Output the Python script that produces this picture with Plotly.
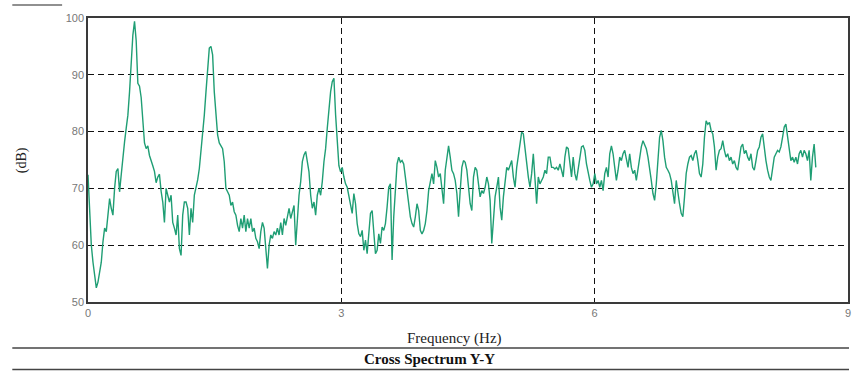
import numpy as np
import plotly.graph_objects as go

# Spectral resolution (Hz per bin) of the recorded spectrum
DF = 0.019677

# dB readings, bin by bin, grouped by frequency band
db_00_15 = [72.4, 66, 60, 57, 55, 52.5, 53.5, 55.5, 57, 60.6, 63, 62.4, 65.3, 68.2, 66.5, 65.3,
            70, 73, 73.5, 69.4, 72.4, 75.9, 78.2, 80.6, 82.9, 87, 92.4, 97, 99.4, 96, 88.5, 88,
            86, 81.5, 78, 77, 77.5, 75.8, 75, 74, 73, 71, 72, 72.5, 69.5, 67.6, 64, 70, 68.8,
            67.6, 68.8, 64, 63, 61.8, 65.3, 59.4, 58.2, 65.3, 67.6, 67.6, 66.5, 61.8, 66.5, 64,
            68.8, 70, 71.5, 73.5, 76.5, 79.4, 82.9, 87, 91.2, 94.7, 95, 93.5]
db_15_30 = [87, 83, 79.4, 78, 77.6, 77, 74.7, 70, 69.4, 68.8, 67, 67.6, 65.9, 65.3, 63.5, 62.4,
            64.7, 63, 65.3, 62.4, 64.7, 63, 64.7, 62.4, 63, 61.2, 60.6, 59.4, 62.4, 64, 63, 60,
            55.9, 60, 61.8, 61.2, 62.4, 61.8, 63, 61.8, 64, 61.8, 64.7, 63.5, 65.3, 66.5, 64.7,
            65.9, 67, 60, 65.3, 68.8, 71.2, 74.7, 75.9, 76.5, 74.7, 72.9, 68.8, 66.5, 67.6, 65.3,
            68.8, 70, 68.8, 71.2, 74.7, 77, 80.6, 84.1, 87, 88.8, 89.4, 83, 78.2, 74, 72.9]
db_30_45 = [73.7, 72, 70.8, 70.2, 68.5, 66.7, 65.6, 69.1, 67.3, 63.8, 62, 61.5, 62.6, 59.1, 60.9,
            58.5, 62, 65.6, 66.1, 62.6, 58.5, 59.1, 62, 60.3, 63.2, 62.6, 63.8, 66.7, 70.2, 70.8,
            57.4, 65, 69.6, 74.3, 75.5, 74.6, 74.9, 74.3, 72, 69.6, 66.7, 65, 63.8, 63.2, 65,
            67.3, 66.1, 62.6, 62, 62.6, 63.8, 66.1, 69.6, 71.4, 72.6, 70.8, 74.9, 73.7, 72, 72.6,
            69.6, 67.3, 73.2, 75.5, 77.5, 75.5, 73.2, 72.6, 71.4, 69.1, 65, 69.6, 73.7, 74.9,
            74.6, 73.2, 69.6]
db_45_60 = [67.3, 66.1, 72, 73.7, 73.2, 70.8, 68.5, 69.6, 69.1, 70.2, 72, 70.8, 67.9, 60.3, 65,
            68.5, 70.2, 72, 66.7, 64.4, 68.5, 71.4, 73.7, 73.2, 74.3, 74.9, 72, 70.2, 73.7, 75.5,
            77.8, 79.9, 79.6, 76.7, 73.7, 72, 70.2, 72.6, 76.1, 71.4, 67.3, 72, 70.8, 71.4, 72,
            73.2, 72.6, 75.5, 75.5, 73.7, 73.7, 73.4, 73.7, 73.2, 74.3, 73.2, 72, 75.5, 77.3, 77,
            74.3, 72, 75.5, 72.6, 71.4, 73.7, 75.5, 77.3, 77.5, 76.7, 74.3, 72.6, 71.4, 70.2,
            70.8, 72.6]
db_60_75 = [70.8, 71.4, 70.2, 71.4, 69.6, 72.6, 73.7, 72, 76.1, 77.5, 76.1, 73.7, 71.4, 73.2,
            75.5, 74.9, 76.1, 76.7, 74.9, 73.7, 76.1, 73.7, 72.6, 73.2, 71.4, 73.7, 75.5, 77.3,
            78.4, 77.8, 77, 75.5, 73.7, 71.4, 69.1, 67.9, 70.8, 75.5, 79, 80.2, 78.4, 75.5, 73.7,
            73.2, 72.6, 71.4, 69.6, 67.3, 71.4, 69.1, 67.3, 65.6, 65, 68.5, 72.6, 74.3, 75.5,
            75.8, 74.9, 76.1, 76.7, 74.9, 72.6, 72, 74.3, 79, 81.9, 81.3, 81.6, 80.2, 79.6, 77.3,
            73.2, 75.5, 76.7]
db_75_86 = [77, 78.4, 76.7, 75.5, 76.1, 74.9, 75.5, 74.3, 74.9, 73.7, 73.2, 75.5, 77.3, 77.8,
            76.1, 76.7, 75.5, 74.9, 76.1, 73.7, 73.2, 74.9, 76.7, 77.3, 79, 79.6, 76.7, 74.9,
            73.2, 72, 71.4, 73.2, 75.5, 76.1, 76.7, 76.4, 77.3, 79, 80.8, 81.3, 79, 76.7, 74.9,
            75.5, 74.6, 75.5, 74.3, 76.1, 76.7, 75.5, 76.7, 76.1, 74.9, 76.7, 71.4, 75.5, 77.8,
            73.7]

db = db_00_15 + db_15_30 + db_30_45 + db_45_60 + db_60_75 + db_75_86
freq = np.arange(len(db)) * DF

x_ticks = [0, 3, 6, 9]
y_ticks = [50, 60, 70, 80, 90, 100]

W, H = 852, 373
L, R, T, B = 88, 851, 18, 302


def px(x):
    return (x - L) / (R - L)


def py(y):
    return (B - y) / (B - T)


fig = go.Figure()
fig.add_trace(go.Scatter(x=freq, y=db, mode="lines",
                         line=dict(color="#1f9e74", width=1.4), showlegend=False))

axis_common = dict(showline=True, mirror=True, linecolor="#3a3a3a", linewidth=1.5,
                   showgrid=True, gridcolor="#111111", gridwidth=1.2, griddash="6px,4px",
                   zeroline=False, ticks="", ticklabeloverflow="allow",
                   tickfont=dict(family="Liberation Sans", size=11, color="#777777"))

fig.update_xaxes(range=[0, 9], tickvals=x_ticks, ticktext=[str(v) for v in x_ticks], **axis_common)
fig.update_yaxes(range=[50, 100], tickvals=y_ticks, ticktext=[str(v) for v in y_ticks], **axis_common)

shapes = [
    dict(type="line", xref="paper", yref="paper", x0=px(12), x1=px(852), y0=py(348), y1=py(348),
         line=dict(color="#444444", width=1.5)),
    dict(type="line", xref="paper", yref="paper", x0=px(12), x1=px(852), y0=py(369.5), y1=py(369.5),
         line=dict(color="#444444", width=1.5)),
    dict(type="line", xref="paper", yref="paper", x0=px(12), x1=px(62), y0=py(5), y1=py(5),
         line=dict(color="#222222", width=1.2)),
]

annotations = [
    dict(text="Frequency (Hz)", xref="paper", yref="paper", x=px(456), y=py(338),
         showarrow=False, font=dict(family="Liberation Serif", size=15, color="#222222"),
         xanchor="center", yanchor="middle"),
    dict(text="<b>Cross Spectrum Y-Y</b>", xref="paper", yref="paper", x=px(431), y=py(359),
         showarrow=False, font=dict(family="Liberation Serif", size=15, color="#111111"),
         xanchor="center", yanchor="middle"),
    dict(text="(dB)", xref="paper", yref="paper", x=px(22), y=py(160), textangle=-90,
         showarrow=False, font=dict(family="Liberation Serif", size=14, color="#222222"),
         xanchor="center", yanchor="middle"),
]

fig.update_layout(width=W, height=H, margin=dict(l=L, r=W - R, t=T, b=H - B),
                  plot_bgcolor="white", paper_bgcolor="white",
                  shapes=shapes, annotations=annotations)

fig.write_html("out.html", config={"displayModeBar": False},
               post_script="document.body.style.margin='0px';document.body.style.overflow='hidden';")
